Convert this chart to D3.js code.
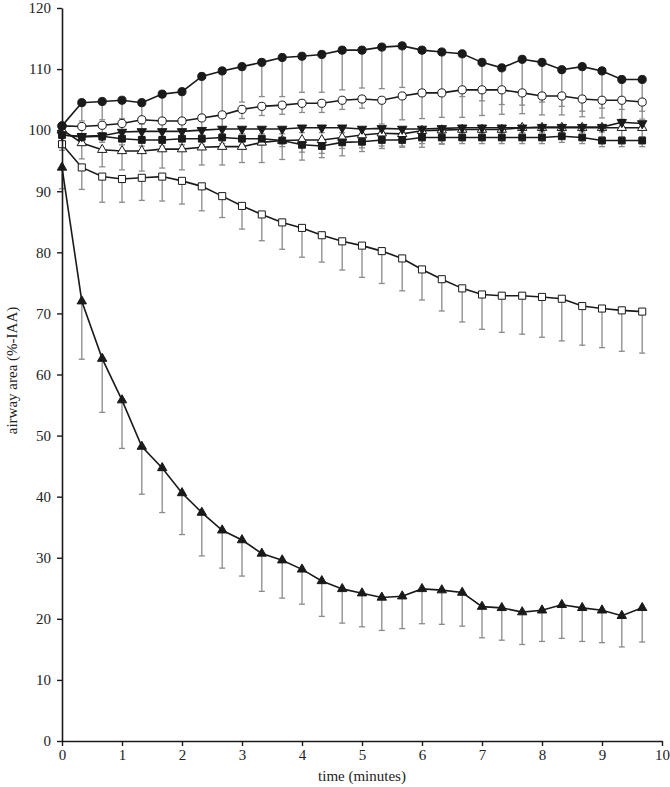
<!DOCTYPE html>
<html>
<head>
<meta charset="utf-8">
<script src="https://cdn.jsdelivr.net/npm/d3@7/dist/d3.min.js"></script>
<style>
  body { margin: 0; background: #fff; }
  text { font-family: "Liberation Serif", "DejaVu Serif", serif; fill: #222; }
</style>
</head>
<body>
<div id="chart"></div>
<script>
// time points (minutes)
var times = [0, 0.33, 0.67, 1, 1.33, 1.67, 2, 2.33, 2.67, 3, 3.33, 3.67, 4, 4.33, 4.67,
             5, 5.33, 5.67, 6, 6.33, 6.67, 7, 7.33, 7.67, 8, 8.33, 8.67, 9, 9.33, 9.67];

// filled circles
var filledCircle = [100.7, 104.5, 104.7, 104.9, 104.5, 105.9, 106.3, 108.8, 109.7, 110.4, 111.1, 111.9, 112.1, 112.4, 113.1,
                    113.1, 113.6, 113.8, 113.1, 112.8, 112.5, 111.1, 110.2, 111.6, 111.1, 109.9, 110.4, 109.7, 108.3, 108.3];
var filledCircleErr = [0, 3, 3, 3, 3.5, 4.5, 4.8, 6.3, 7.5, 5.8, 5.6, 6.4, 5.9, 6.2, 6.5,
                       6.2, 6.8, 6.8, 7.0, 7.0, 7.0, 8.7, 7.6, 8.9, 8.6, 7.4, 8.2, 7.7, 6.5, 6.5];

// open circles
var openCircle = [100.7, 100.6, 100.8, 101.1, 101.7, 101.5, 101.5, 102.0, 102.5, 103.4, 103.9, 104.1, 104.4, 104.4, 104.9,
                  105.1, 104.9, 105.6, 106.1, 106.1, 106.6, 106.6, 106.6, 106.1, 105.6, 105.6, 105.1, 104.9, 104.9, 104.6];
var openCircleErr = [0, 1.5, 1.5, 1.5, 1.8, 1.8, 1.8, 2, 2, 1.5, 1.5, 1.5, 1.5, 1.5, 1.5,
                     1.5, 3.9, 3.9, 4.2, 4.0, 4.5, 1.8, 2.4, 2.0, 1.0, 1.7, 2.0, 1.3, 1.5, 1.5];

// filled inverted triangles
var filledDown = [99.2, 99.0, 99.1, 99.7, 99.8, 99.8, 99.8, 100.0, 100.2, 100.2, 100.2, 100.2, 100.4, 100.4, 100.4,
                  100.2, 100.3, 100.2, 100.2, 100.3, 100.4, 100.4, 100.4, 100.4, 100.5, 100.5, 100.5, 100.5, 101.3, 101.1];
var filledDownErr = [0, 0.8, 0.8, 0.8, 0.8, 0.8, 0.8, 0.8, 0.8, 0.8, 0.8, 0.8, 0.8, 0.8, 0.8,
                     0.8, 0.8, 0.8, 0.8, 0.8, 0.8, 0.8, 0.8, 0.8, 0.8, 0.8, 0.8, 0.8, 0.8, 0.8];

// filled squares
var filledSquare = [99.2, 98.9, 99.0, 98.6, 98.4, 98.4, 98.6, 98.6, 98.8, 98.6, 98.6, 98.3, 97.6, 97.4, 98.0,
                    98.1, 98.4, 98.4, 98.8, 98.8, 98.8, 98.8, 98.8, 98.8, 98.8, 99.0, 98.8, 98.3, 98.3, 98.3];
var filledSquareErr = [0, 1.0, 1.0, 1.0, 1.0, 1.0, 1.0, 1.0, 1.0, 1.0, 1.0, 1.0, 1.2, 1.2, 1.0,
                       1.0, 1.0, 1.0, 1.0, 1.0, 1.0, 1.0, 1.0, 1.0, 1.0, 1.0, 1.0, 1.0, 1.0, 1.0];

// open triangles
var openTri = [100.1, 97.9, 96.8, 96.6, 96.6, 96.9, 96.9, 97.2, 97.3, 97.3, 98.0, 98.3, 98.4, 98.4, 98.8,
               99.2, 99.5, 99.4, 99.9, 100.0, 100.1, 100.1, 100.1, 100.4, 100.4, 100.4, 100.4, 100.4, 100.4, 100.4];
var openTriErr = [0, 2.6, 2.8, 3.1, 3.3, 3.1, 3.4, 2.9, 3.0, 2.6, 3.3, 3.1, 3.3, 2.9, 3.0,
                  2.7, 2.5, 2.2, 2.7, 2.3, 1.5, 1.5, 1.5, 1.5, 1.5, 1.5, 1.5, 1.5, 1.5, 1.5];

// open squares
var openSquare = [97.7, 93.9, 92.4, 92.0, 92.2, 92.4, 91.7, 90.8, 89.2, 87.6, 86.2, 84.9, 84.0, 82.8, 81.8,
                  81.1, 80.2, 79.0, 77.2, 75.6, 74.1, 73.1, 72.9, 72.9, 72.7, 72.4, 71.2, 70.8, 70.5, 70.3];
var openSquareErr = [1, 3.6, 4.2, 3.8, 3.7, 4.0, 3.8, 4.0, 3.5, 3.8, 4.3, 4.4, 4.8, 4.4, 4.7,
                     5.2, 5.3, 5.3, 5.0, 5.2, 5.5, 5.7, 6.0, 6.3, 6.6, 6.9, 6.4, 6.4, 6.7, 6.8];

// filled triangles
var filledTri = [93.9, 72.0, 62.6, 55.8, 48.2, 44.7, 40.6, 37.4, 34.5, 32.9, 30.7, 29.6, 28.1, 26.2, 24.9,
                 24.2, 23.5, 23.7, 24.9, 24.7, 24.3, 22.0, 21.8, 21.1, 21.4, 22.3, 21.8, 21.4, 20.5, 21.8];
var filledTriErr = [3.5, 9.5, 8.8, 7.9, 7.8, 7.3, 6.8, 7.1, 6.2, 5.9, 6.2, 6.2, 5.7, 5.8, 5.6,
                    5.5, 5.4, 5.3, 5.7, 5.6, 5.5, 5.1, 5.3, 5.3, 5.1, 5.5, 5.5, 5.3, 5.1, 5.6];

var yTicks = [0, 10, 20, 30, 40, 50, 60, 70, 80, 90, 100, 110, 120];
var xTicks = [0, 1, 2, 3, 4, 5, 6, 7, 8, 9, 10];

var series = [
  { values: filledTri,    err: filledTriErr,    shape: d3.symbolTriangle, fill: "#1a1a1a", rot: 0,   size: 38 },
  { values: openSquare,   err: openSquareErr,   shape: d3.symbolSquare,   fill: "#fff",    rot: 0,   size: 50 },
  { values: openTri,      err: openTriErr,      shape: d3.symbolTriangle, fill: "#fff",    rot: 0,   size: 38 },
  { values: filledSquare, err: filledSquareErr, shape: d3.symbolSquare,   fill: "#1a1a1a", rot: 0,   size: 46 },
  { values: filledDown,   err: filledDownErr,   shape: d3.symbolTriangle, fill: "#1a1a1a", rot: 180, size: 38 },
  { values: openCircle,   err: openCircleErr,   shape: d3.symbolCircle,   fill: "#fff",    rot: 0,   size: 52 },
  { values: filledCircle, err: filledCircleErr, shape: d3.symbolCircle,   fill: "#1a1a1a", rot: 0,   size: 52 }
];

var svgWidth = 670, svgHeight = 787;
var margin = { top: 8, right: 8, bottom: 46, left: 62 };
var width = svgWidth - margin.left - margin.right;
var height = svgHeight - margin.top - margin.bottom;

var svg = d3.select("#chart").append("svg")
  .attr("width", svgWidth)
  .attr("height", svgHeight);

var g = svg.append("g")
  .attr("transform", `translate(${margin.left}, ${margin.top})`);

var x = d3.scaleLinear().domain([0, 10]).range([0, 600]);
var y = d3.scaleLinear().domain([0, 120]).range([height, 0]);

// error bars (downward only) behind everything
series.forEach(function(s) {
  var bars = g.append("g").attr("stroke", "#8a8a8a").attr("stroke-width", 1.3);
  s.values.forEach(function(v, i) {
    var e = s.err[i];
    if (!e) return;
    var cx = x(times[i]), y0 = y(v), y1 = y(v - e);
    bars.append("line").attr("x1", cx).attr("x2", cx).attr("y1", y0).attr("y2", y1);
    bars.append("line").attr("x1", cx - 3).attr("x2", cx + 3).attr("y1", y1).attr("y2", y1);
  });
});

// lines
var line = d3.line()
  .x((d, i) => x(times[i]))
  .y(d => y(d));

series.forEach(function(s) {
  g.append("path")
    .datum(s.values)
    .attr("fill", "none")
    .attr("stroke", "#1a1a1a")
    .attr("stroke-width", 1.6)
    .attr("d", line);
});

// markers
series.forEach(function(s) {
  g.append("g").selectAll("path")
    .data(s.values)
    .enter()
    .append("path")
    .attr("d", d3.symbol().type(s.shape).size(s.size))
    .attr("transform", (d, i) => `translate(${x(times[i])}, ${y(d)}) rotate(${s.rot})`)
    .attr("fill", s.fill)
    .attr("stroke", "#1a1a1a")
    .attr("stroke-width", 1);
});

// axes
var xAxis = d3.axisBottom(x).tickValues(xTicks).tickSize(5).tickSizeOuter(0).tickFormat(d3.format("d"));
var yAxis = d3.axisLeft(y).tickValues(yTicks).tickSize(5).tickSizeOuter(0).tickFormat(d3.format("d"));

var gx = g.append("g")
  .attr("transform", `translate(0, ${height})`)
  .call(xAxis);
var gy = g.append("g").call(yAxis);

[gx, gy].forEach(function(a) {
  a.select(".domain").attr("stroke", "#1a1a1a").attr("stroke-width", 1.6);
  a.selectAll(".tick line").attr("stroke", "#1a1a1a").attr("stroke-width", 1.4);
  a.selectAll(".tick text")
    .attr("font-family", "'Liberation Serif', 'DejaVu Serif', serif")
    .attr("font-size", "15px")
    .attr("fill", "#222");
});
gy.selectAll(".tick text").attr("x", -11);
gx.selectAll(".tick text").attr("y", 8);

// axis labels
g.append("text")
  .attr("transform", "rotate(-90)")
  .attr("x", -height / 2 + 4)
  .attr("y", -margin.left + 17)
  .attr("text-anchor", "middle")
  .attr("font-size", "15px")
  .text("airway area (%-IAA)");

g.append("text")
  .attr("x", 300)
  .attr("y", height + 40)
  .attr("text-anchor", "middle")
  .attr("font-size", "15px")
  .text("time (minutes)");
</script>
</body>
</html>
